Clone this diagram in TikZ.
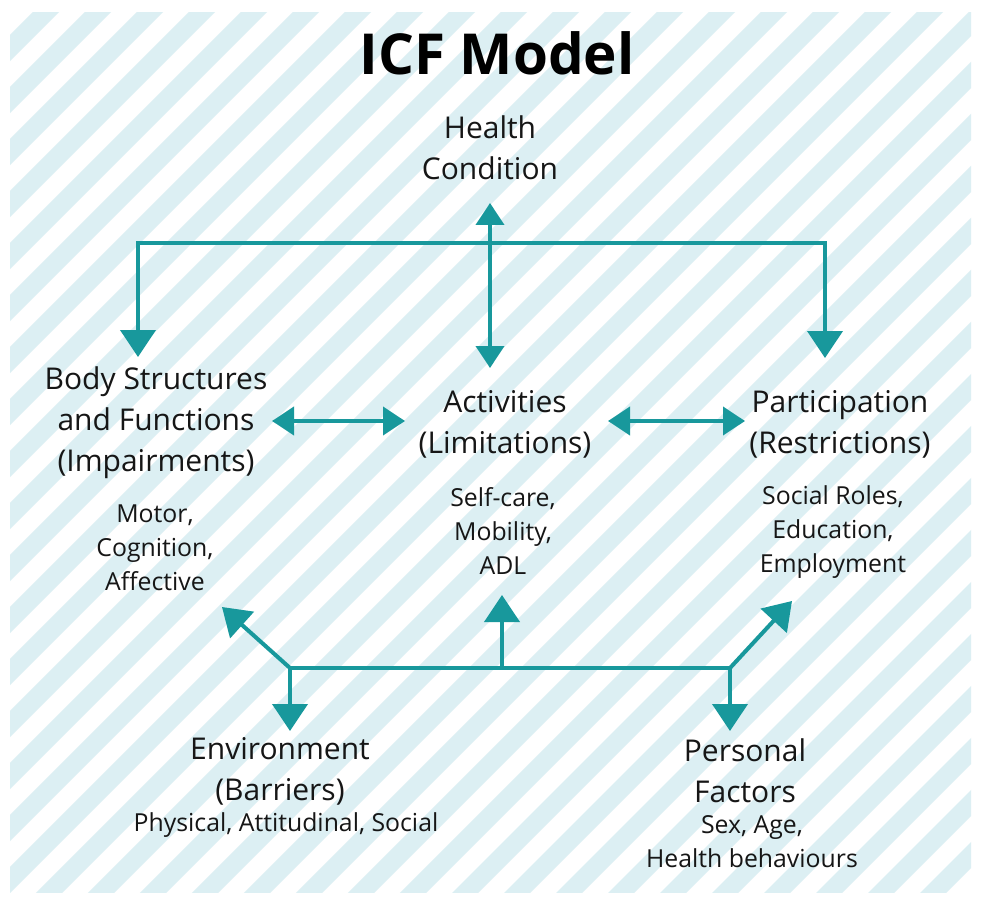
\documentclass[tikz,border=0pt]{standalone}
\usepackage{fontspec}
\setmainfont{Open Sans}
\usetikzlibrary{arrows.meta}
\definecolor{teal1}{RGB}{24,152,156}
\definecolor{stripe}{RGB}{220,239,243}
\definecolor{ink}{RGB}{22,22,22}
\tikzset{
  BigTri/.tip={Triangle[width=35pt,length=27pt]},
  SmallTri/.tip={Triangle[width=28pt,length=22pt]},
}
\begin{document}
\begin{tikzpicture}[x=1pt,y=-1pt,
  conn/.style={draw=teal1,line width=4pt,line join=miter},
  lab/.style={font=\fontsize{30}{41}\selectfont,text=ink,align=center,inner sep=0pt},
  sublab/.style={font=\fontsize{24.8}{34}\selectfont,text=ink,align=center,inner sep=0pt},
  titlelab/.style={font=\fontsize{56.5}{60}\selectfont\bfseries,text=black,inner sep=0pt},
]
% background
\fill[white] (0,0) rectangle (983,904);
\useasboundingbox (0,0) rectangle (983,904);
\begin{scope}
  \clip (10,13) rectangle (971,892);
  \foreach \k in {0,...,37}{
    \pgfmathsetmacro{\c}{58+52*\k}
    \draw[stripe,line width=18.4pt] (\c+50,-50) -- (\c-1100,1100);
  }
\end{scope}

% texts
\node[titlelab] (title) at (497,53) {ICF Model};
\node[lab] (hc) at (490,148) {Health\\Condition};
\node[lab] (body) at (156,423) {Body Structures\\and Functions\\(Impairments)};
\node[sublab] (bodysub) at (155,548) {Motor,\\Cognition,\\Affective};
\node[lab] (act) at (505,424) {Activities\\(Limitations)};
\node[sublab] (actsub) at (503,531) {Self-care,\\Mobility,\\ADL};
\node[lab] (part) at (840,424) {Participation\\(Restrictions)};
\node[sublab] (partsub) at (833,532) {Social Roles,\\Education,\\Employment};
\node[lab] (env) at (280,771) {Environment\\(Barriers)};
\node[sublab] (envsub) at (286,825) {Physical, Attitudinal, Social};
\node[lab] (pers) at (745,771) {Personal\\Factors};
\node[sublab] (perssub) at (752,842) {Sex, Age,\\Health behaviours};

% connector points
\coordinate (hcTip) at (490,203);
\coordinate (actTip) at (490,368);
\coordinate (jL) at (138,243);
\coordinate (jR) at (825,243);
\coordinate (bodyTip) at (138,357);
\coordinate (partTip) at (825,358);
\coordinate (baL) at (272,421);
\coordinate (baR) at (405,421);
\coordinate (apL) at (608,421);
\coordinate (apR) at (745,421);
\coordinate (bL) at (290,668);
\coordinate (bR) at (730,668);
\coordinate (bM) at (502,668);
\coordinate (actUp) at (502,595);
\coordinate (bodyDiag) at (222,607);
\coordinate (envTip) at (290,731);
\coordinate (partDiag) at (792,601);
\coordinate (persTip) at (730,731);

% connectors
\draw[conn,SmallTri-SmallTri] (hcTip) -- (actTip);
\draw[conn,BigTri-BigTri] (bodyTip) -- (jL) -- (jR) -- (partTip);
\draw[conn,SmallTri-SmallTri] (baL) -- (baR);
\draw[conn,SmallTri-SmallTri] (apL) -- (apR);
\draw[conn] (bL) -- (bR);
\draw[conn,-BigTri] (bM) -- (actUp);
\draw[conn,-BigTri] (bL) -- (bodyDiag);
\draw[conn,-BigTri] (bL) -- (envTip);
\draw[conn,-BigTri] (bR) -- (partDiag);
\draw[conn,-BigTri] (bR) -- (persTip);
\end{tikzpicture}
\end{document}
